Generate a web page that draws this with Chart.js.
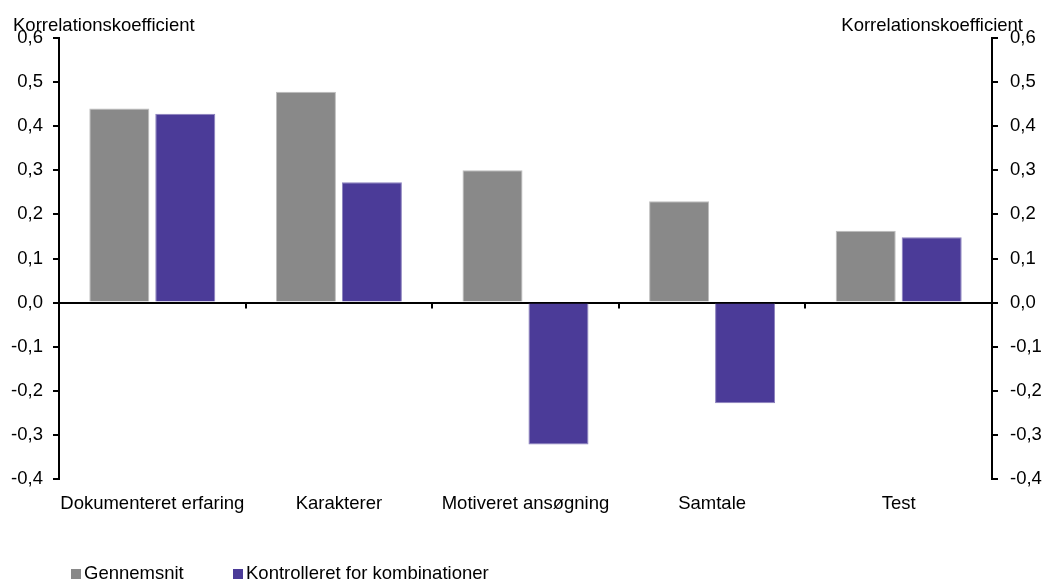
<!DOCTYPE html>
<html>
<head>
<meta charset="utf-8">
<script src="https://cdn.jsdelivr.net/npm/chart.js@4"></script>
<style>
  html, body { margin: 0; padding: 0; background: #fff; overflow: hidden; }
  #wrap { position: relative; width: 1044px; height: 579px; overflow: hidden; }
  #legend { position: absolute; left: 71px; top: 563px; font: 18.5px "Liberation Sans", Arial, sans-serif; color: #000; white-space: nowrap; }
  #legend span.item { position: absolute; top: 0; line-height: 20px; }
  #legend i { display: inline-block; width: 10px; height: 10px; margin-right: 3px; vertical-align: 0px; }
</style>
</head>
<body>
<div id="wrap">
  <canvas id="chart" width="1044" height="579"></canvas>
  <div id="legend"></div>
</div>
<script>
// Categories and values
const categories = ['Dokumenteret erfaring', 'Karakterer', 'Motiveret ansøgning', 'Samtale', 'Test'];
const gennemsnit = [0.44, 0.478, 0.30, 0.23, 0.163];
const kontrolleret = [0.428, 0.273, -0.322, -0.228, 0.148];
const seriesNames = ['Gennemsnit', 'Kontrolleret for kombinationer'];
const seriesColors = ['#898989', '#4B3B98'];
const axisTitle = 'Korrelationskoefficient';
const yMin = -0.4, yMax = 0.6, yStep = 0.1;

const font = { family: '"Liberation Sans", Arial, sans-serif', size: 18.5 };
const fmt = v => (Math.round(v * 10) / 10).toFixed(1).replace('.', ',');

// Draws the two axis captions and the small category ticks on the zero line
const extras = {
  id: 'extras',
  afterDatasetsDraw(chart) {
    const c = chart.ctx;
    const x = chart.scales.x, y = chart.scales.y;
    const zeroY = y.getPixelForValue(0);
    c.save();
    c.strokeStyle = '#000';
    c.lineWidth = 2;
    for (let i = 1; i < categories.length; i++) {
      const px = Math.round((x.getPixelForTick(i - 1) + x.getPixelForTick(i)) / 2);
      c.beginPath();
      c.moveTo(px, zeroY);
      c.lineTo(px, zeroY + 6);
      c.stroke();
    }
    c.fillStyle = '#000';
    c.font = '18.5px "Liberation Sans", Arial, sans-serif';
    c.textBaseline = 'alphabetic';
    c.textAlign = 'left';
    c.fillText(axisTitle, 13, 31);
    c.textAlign = 'right';
    c.fillText(axisTitle, 1023, 31);
    c.restore();
  }
};

const ctx = document.getElementById('chart').getContext('2d');
new Chart(ctx, {
  type: 'bar',
  data: {
    labels: categories,
    datasets: [
      { label: seriesNames[0], data: gennemsnit, backgroundColor: seriesColors[0], borderColor: '#bdbdbd', borderWidth: { top: 1, left: 1, right: 1, bottom: 0 } },
      { label: seriesNames[1], data: kontrolleret, backgroundColor: seriesColors[1], borderColor: '#8a80bd', borderWidth: 1 }
    ]
  },
  options: {
    responsive: false,
    animation: false,
    devicePixelRatio: 1,
    categoryPercentage: 0.707,
    barPercentage: 0.91,
    layout: { padding: { top: 38, left: 0, right: 0, bottom: 0 } },
    scales: {
      x: {
        grid: { display: false },
        border: { display: false },
        ticks: { color: '#000', font: font, padding: 6, maxRotation: 0, autoSkip: false },
        afterFit(s) { s.height = 100; }
      },
      y: {
        position: 'left',
        min: yMin, max: yMax,
        border: { color: '#000', width: 2 },
        grid: {
          color: c => (c.tick && Math.abs(c.tick.value) < 1e-9) ? '#000' : 'rgba(0,0,0,0)',
          lineWidth: 2,
          tickColor: '#000',
          tickLength: 6
        },
        ticks: { stepSize: yStep, color: '#000', font: font, padding: 10, callback: v => fmt(v) },
        afterFit(s) { s.width = 59; }
      },
      y2: {
        display: true,
        position: 'right',
        min: yMin, max: yMax,
        border: { color: '#000', width: 2 },
        grid: { drawOnChartArea: false, tickColor: '#000', tickLength: 6, lineWidth: 2 },
        ticks: { stepSize: yStep, color: '#000', font: font, padding: 12, callback: v => fmt(v) },
        afterFit(s) { s.width = 52; }
      }
    },
    plugins: {
      tooltip: { enabled: false },
      legend: { display: false }
    }
  },
  plugins: [extras]
});

// HTML legend at the bottom left
const legend = document.getElementById('legend');
const itemLeft = [0, 162];
seriesNames.forEach((name, i) => {
  const item = document.createElement('span');
  item.className = 'item';
  item.style.left = itemLeft[i] + 'px';
  const box = document.createElement('i');
  box.style.background = seriesColors[i];
  item.appendChild(box);
  item.appendChild(document.createTextNode(name));
  legend.appendChild(item);
});
</script>
</body>
</html>
